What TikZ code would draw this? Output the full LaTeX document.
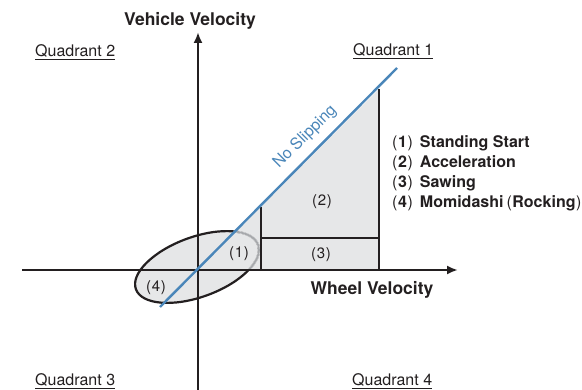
\documentclass[tikz,border=0pt]{standalone}
\usepackage{fontspec}
\setmainfont{TeX Gyre Heros}
\usetikzlibrary{arrows.meta}
\definecolor{ink}{HTML}{231F20}
\definecolor{slip}{HTML}{4A86B9}
\definecolor{fillg}{HTML}{E6E7E8}
\definecolor{arcg}{HTML}{A7A9AC}
\newcommand\ulq[1]{\setbox0\hbox{#1}\rlap{\color{ink}\rule[-2.8pt]{\wd0}{1.1pt}}\box0}
\newcommand\pn[1]{{\mdseries(}\kern0.6pt#1\kern0.6pt{\mdseries)}}
\begin{document}
\begin{tikzpicture}[x=1pt,y=-1pt,
  axis/.style={line width=2.4pt,draw=ink,-{Latex[length=11pt,width=9pt]}},
  bound/.style={line width=2.6pt,draw=ink},
  quad/.style={inner sep=0pt,text=ink,font=\fontsize{16}{18}\selectfont},
  axlab/.style={inner sep=0pt,text=ink,font=\fontsize{17.5}{20}\selectfont\bfseries},
  leg/.style={inner sep=0pt,anchor=base west,text=ink,font=\fontsize{16}{18}\selectfont\bfseries},
  reg/.style={inner sep=0pt,text=ink,font=\fontsize{15}{17}\selectfont}]
\useasboundingbox (0,0) rectangle (582,390);
% key points
\coordinate (O) at (198,270);
\coordinate (Ytop) at (198,32);
\coordinate (Ybot) at (198,395);
\coordinate (Xl) at (22,270);
\coordinate (Xr) at (458,270);
\coordinate (BL) at (160,307);
\coordinate (BT) at (397,68);
\coordinate (R1) at (379,89);
\coordinate (R0) at (379,270);
\coordinate (L1) at (261,207);
\coordinate (L0) at (261,270);
\coordinate (M1) at (261,238);
\coordinate (M2) at (379,238);
\coordinate (E) at (197,267);
% fills
\fill[fillg] (O) -- (R1) -- (R0) -- cycle;
\fill[fillg, rotate around={20:(E)}] (E) ellipse [x radius=65pt, y radius=30pt];
% ellipse outline
\draw[line width=2.2pt, ink, rotate around={20:(E)}] (E) ellipse [x radius=65pt, y radius=30pt];
\begin{scope}
  \clip (O) -- (R1) -- (R0) -- cycle;
  \draw[line width=2.6pt, fillg, rotate around={20:(E)}] (E) ellipse [x radius=65pt, y radius=30pt];
  \draw[line width=1.8pt, arcg, rotate around={20:(E)}] (E) ellipse [x radius=65pt, y radius=30pt];
\end{scope}
% boundaries
\draw[bound] (R0) -- (R1);
\draw[bound] (L0) -- (L1);
\draw[bound] (M1) -- (M2);
% axes
\draw[axis] (Ybot) -- (Ytop);
\draw[axis] (Xl) -- (Xr);
% no slipping line
\draw[line width=2.4pt, slip] (BL) -- (BT);
\node[inner sep=0pt, text=slip, rotate=45, font=\fontsize{16}{18}\selectfont] (ns) at (305,137) {No Slipping};
% axis labels
\node[axlab] (vv) at (190,21) {Vehicle Velocity};
\node[axlab] (wv) at (372,290) {Wheel Velocity};
% quadrants
\node[quad, anchor=base west] (q2) at (35,57) {\ulq{Quadrant 2}};
\node[quad, anchor=base west] (q1) at (353,56) {\ulq{Quadrant 1}};
\node[quad, anchor=base west] (q3) at (35,386) {\ulq{Quadrant 3}};
\node[quad, anchor=base west] (q4) at (352,386) {\ulq{Quadrant 4}};
% legend
\node[leg] (l1) at (392,148) {\pn{1}\kern7pt Standing Start};
\node[leg] (l2) at (392,168) {\pn{2}\kern7pt Acceleration};
\node[leg] (l3) at (392,188) {\pn{3}\kern7pt Sawing};
\node[leg] (l4) at (392,208) {\pn{4}\kern7pt Momidashi\kern3pt\pn{Rocking}};
% region labels
\node[reg] (r1) at (239,254) {(\kern0.8pt1\kern0.8pt)};
\node[reg] (r2) at (322,202) {(\kern0.8pt2\kern0.8pt)};
\node[reg] (r3) at (321,255) {(\kern0.8pt3\kern0.8pt)};
\node[reg] (r4) at (156,288) {(\kern0.8pt4\kern0.8pt)};
\end{tikzpicture}
\end{document}
